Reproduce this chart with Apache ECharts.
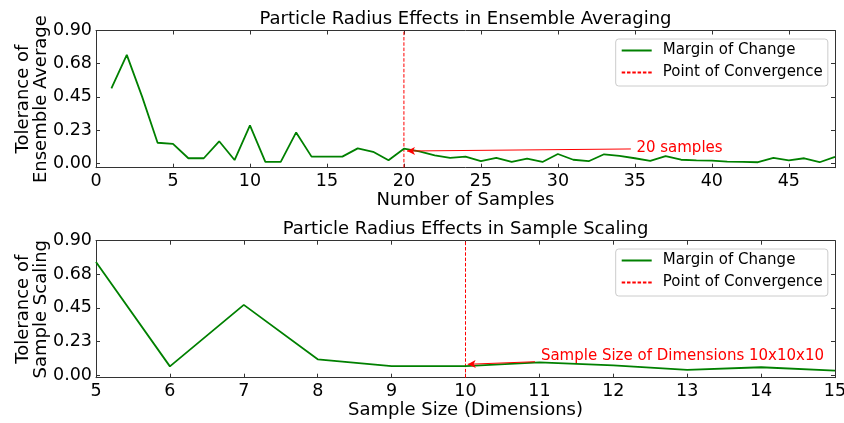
<!DOCTYPE html>
<html><head><meta charset="utf-8">
<script src="https://cdn.jsdelivr.net/npm/echarts@6/dist/echarts.min.js"></script>
<style>html,body{margin:0;padding:0;background:#fff}#c{width:844px;height:423px}</style>
</head><body><div id="c"></div><script>
// ---- data ----
const samplesX = [1,2,3,4,5,6,7,8,9,10,11,12,13,14,15,16,17,18,19,20,21,22,23,24,25,26,27,28,29,30,31,32,33,34,35,36,37,38,39,40,41,42,43,44,45,46,47,48];
const ensembleTol = [0.507,0.735,0.45,0.139,0.132,0.034,0.034,0.149,0.022,0.257,0.009,0.009,0.209,0.045,0.045,0.045,0.101,0.078,0.020,0.099,0.080,0.054,0.036,0.045,0.014,0.036,0.009,0.031,0.009,0.063,0.024,0.014,0.061,0.050,0.034,0.016,0.049,0.024,0.020,0.018,0.011,0.009,0.007,0.036,0.020,0.034,0.007,0.043];
const sizeX = [5,6,7,8,9,10,11,12,13,14,15];
const scalingTol = [0.757,0.058,0.470,0.105,0.060,0.060,0.085,0.065,0.034,0.052,0.029];
const convergenceTop = 20;
const convergenceBottom = 10;
const topXTicks = [0,5,10,15,20,25,30,35,40,45];
const bottomXTicks = [5,6,7,8,9,10,11,12,13,14,15];
const yTicks = [0,0.225,0.45,0.675,0.9];
const yTickLabels = ['0.00','0.23','0.45','0.68','0.90'];
const titles = ['Particle Radius Effects in Ensemble Averaging','Particle Radius Effects in Sample Scaling'];
const xNames = ['Number of Samples','Sample Size (Dimensions)'];
const yNames = ['Tolerance of\nEnsemble Average','Tolerance of\nSample Scaling'];
const legendNames = ['Margin of Change','Point of Convergence'];
const annotTop = {text:'20 samples', textAt:[35.1,0.105], from:[34.74,0.097], to:[20.2,0.083]};
const annotBottom = {text:'Sample Size of Dimensions 10x10x10', textAt:[11.02,0.128], from:[10.94,0.089], to:[10.03,0.072]};
const topRange = {xmin:0,xmax:48,ymin:-0.03,ymax:0.9};
const bottomRange = {xmin:5,xmax:15,ymin:-0.018,ymax:0.9};

// ---- chart ----
const FONT = 'DejaVu Sans';
const AX = '#333';
const chart = echarts.init(document.getElementById('c'), null, {renderer:'canvas'});
const grids = [
  {left:96, right:9, top:30.5, height:137.2, outerBoundsMode:'none'},
  {left:96, right:9, top:240.7, height:137, outerBoundsMode:'none'}
];
function xAxes(g, r, ticks, name){
  const base = {gridIndex:g, type:'value', min:r.xmin, max:r.xmax, splitLine:{show:false},
    axisLine:{show:true,onZero:false,lineStyle:{color:AX,width:1}},
    axisTick:{show:true,inside:true,length:4,customValues:ticks,lineStyle:{color:AX,width:1}}};
  return [
    Object.assign({}, base, {position:'bottom',
      axisLabel:{show:true,customValues:ticks,margin:5,fontSize:17.5,color:'#000',fontFamily:FONT},
      name:name, nameLocation:'middle', nameGap:24, nameMoveOverlap:false,
      nameTextStyle:{fontSize:18,color:'#000',fontFamily:FONT}}),
    Object.assign({}, base, {position:'top', axisLabel:{show:false}})
  ];
}
function yAxes(g, r, name){
  const base = {gridIndex:g, type:'value', min:r.ymin, max:r.ymax, splitLine:{show:false},
    axisLine:{show:true,onZero:false,lineStyle:{color:AX,width:1}},
    axisTick:{show:true,inside:true,length:4,customValues:yTicks,lineStyle:{color:AX,width:1}}};
  return [
    Object.assign({}, base, {position:'left',
      axisLabel:{show:true,customValues:yTicks,margin:4,fontSize:17.5,color:'#000',fontFamily:FONT,
        formatter:function(v){const i=yTicks.findIndex(t=>Math.abs(t-v)<1e-9);return i>=0?yTickLabels[i]:'';}},
      name:name, nameLocation:'middle', nameGap:45, nameRotate:90, nameMoveOverlap:false,
      nameTextStyle:{fontSize:18,lineHeight:18.5,color:'#000',fontFamily:FONT,align:'center'}}),
    Object.assign({}, base, {position:'right', axisLabel:{show:false}})
  ];
}
function seriesFor(g, xs, ys, conv, r, annot){
  const xi = g*2, yi = g*2;
  return [
    {name:legendNames[0], type:'line', xAxisIndex:xi, yAxisIndex:yi,
      data:xs.map((x,i)=>[x,ys[i]]), symbol:'none', smooth:false,
      lineStyle:{color:'#008000',width:1.8}, itemStyle:{color:'#008000'}, z:3},
    {name:legendNames[1], type:'line', xAxisIndex:xi, yAxisIndex:yi,
      data:[[conv,r.ymin],[conv,r.ymax]], symbol:'none',
      lineStyle:{color:'#ff0000',width:1,type:[3.5,1.8]}, itemStyle:{color:'#ff0000'}, z:2,
      markLine:{silent:true, symbol:['none','arrow'], symbolSize:[6,8], label:{show:false},
        lineStyle:{color:'#ff0000',width:1,type:'solid'},
        data:[[{coord:annot.from},{coord:annot.to}]]},
      markPoint:{silent:true, symbol:'circle', symbolSize:0,
        label:{show:true, position:'right', distance:0, color:'#ff0000', fontSize:15, fontFamily:FONT,
          formatter:annot.text},
        data:[{coord:annot.textAt}]}}
  ];
}
function legendAt(top){
  return {data:legendNames, orient:'vertical', left:615.7, top:top, itemWidth:30, itemHeight:14, itemGap:7,
    itemStyle:{opacity:0},
    padding:[4,5,6,5], borderColor:'#cccccc', borderWidth:1, borderRadius:3, backgroundColor:'rgba(255,255,255,0.8)',
    textStyle:{fontSize:15,lineHeight:15,color:'#000',fontFamily:FONT,padding:[0,0,0,6]}, selectedMode:false};
}
const option = {
  animation:false,
  backgroundColor:'#fff',
  title:[
    {text:titles[0], left:460.5, top:5, textAlign:'center', textStyle:{fontSize:18,fontWeight:'normal',color:'#000',fontFamily:FONT}},
    {text:titles[1], left:460.5, top:215, textAlign:'center', textStyle:{fontSize:18,fontWeight:'normal',color:'#000',fontFamily:FONT}}
  ],
  grid:grids,
  xAxis:[...xAxes(0, topRange, topXTicks, xNames[0]), ...xAxes(1, bottomRange, bottomXTicks, xNames[1])],
  yAxis:[...yAxes(0, topRange, yNames[0]), ...yAxes(1, bottomRange, yNames[1])],
  legend:[legendAt(39), legendAt(249)],
  series:[...seriesFor(0, samplesX, ensembleTol, convergenceTop, topRange, annotTop),
          ...seriesFor(1, sizeX, scalingTol, convergenceBottom, bottomRange, annotBottom)]
};
chart.setOption(option);
</script></body></html>
